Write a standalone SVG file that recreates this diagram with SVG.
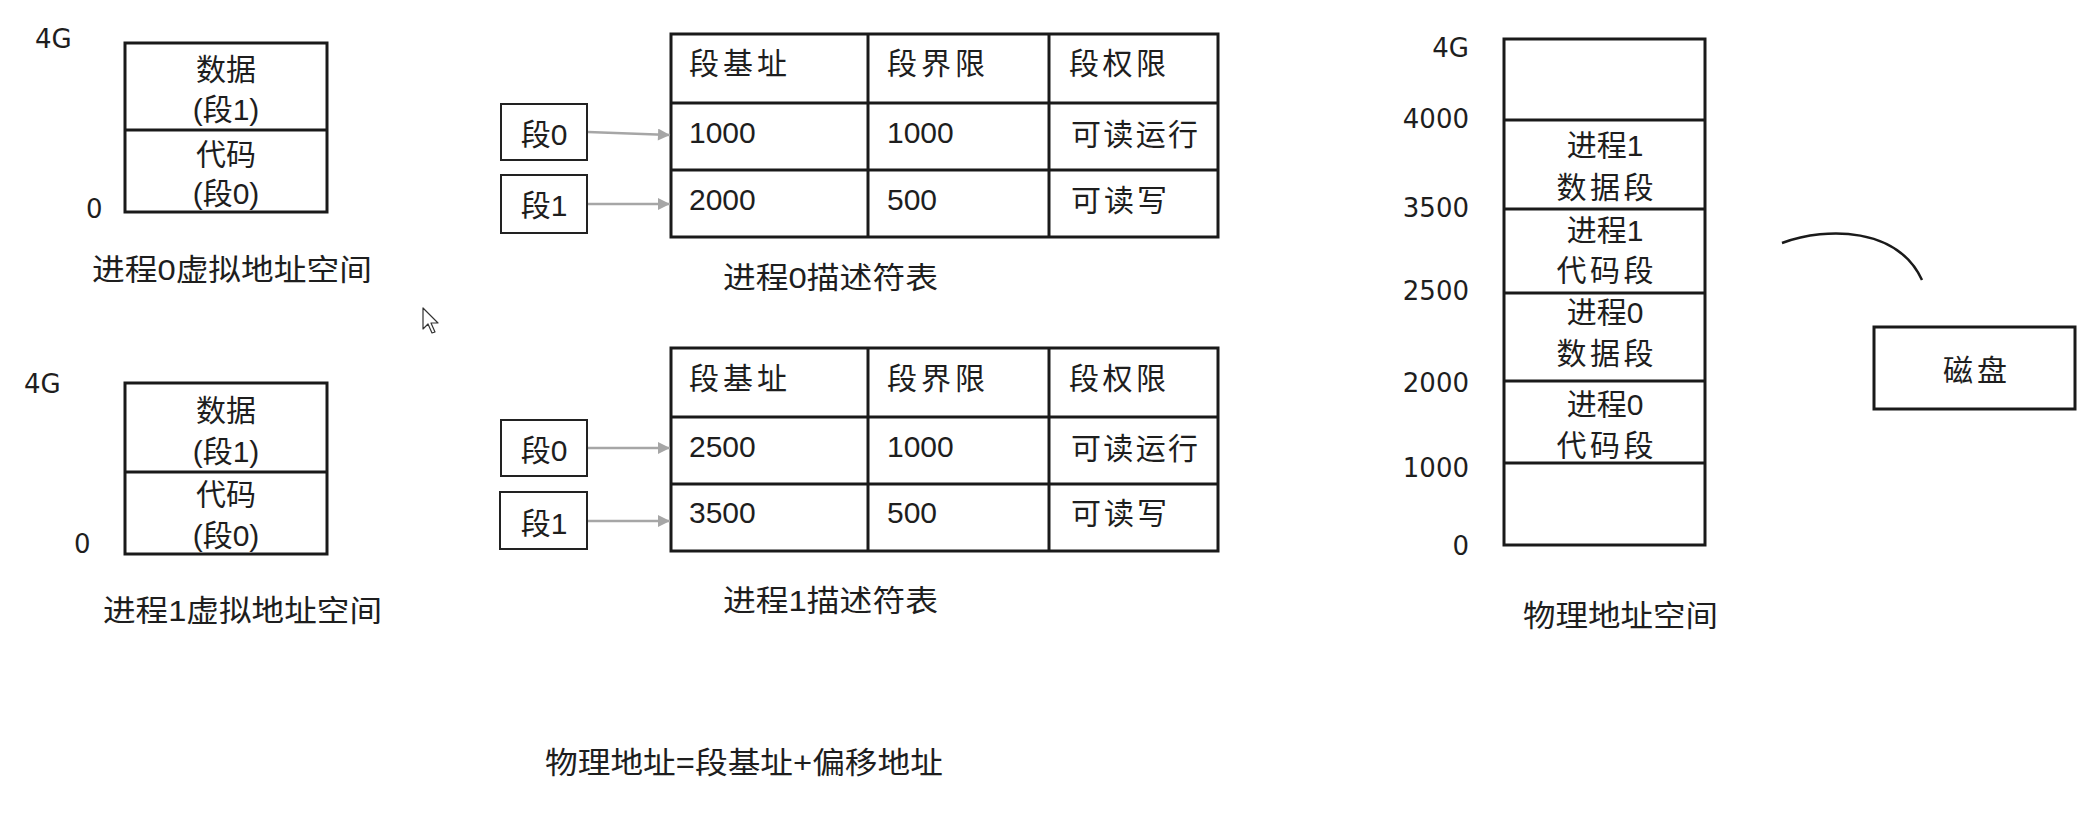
<svg xmlns="http://www.w3.org/2000/svg" width="2090" height="816" viewBox="0 0 2090 816">
<style>
text{font-family:"Liberation Sans","Noto Sans CJK SC",sans-serif;fill:#1e1e1e;font-size:30px}
.c{text-anchor:middle}
.r{text-anchor:end}
.num{font-family:"DejaVu Sans","Noto Sans CJK SC",sans-serif;font-size:26px}
.box{fill:#fff;stroke:#1a1a1a;stroke-width:3}
.ln{stroke:#1a1a1a;stroke-width:3}
.sbox{fill:#fff;stroke:#222;stroke-width:2}
.arr{stroke:#a6a6a6;stroke-width:2.5;fill:none}
</style>
<defs>
<marker id="ah" viewBox="0 0 10 10" refX="10" refY="5" markerWidth="14" markerHeight="12" markerUnits="userSpaceOnUse" orient="auto">
<path d="M0,0 L10,5 L0,10 Z" fill="#a6a6a6"/>
</marker>
</defs>
<rect width="2090" height="816" fill="#fff"/>

<g id="vspace0">
<rect class="box" x="125" y="43" width="202" height="169"/>
<line class="ln" x1="125" y1="130" x2="327" y2="130"/>
<text class="num" x="35" y="48" font-size="23">4G</text>
<text class="num" x="86" y="218" font-size="24">0</text>
<text class="c" x="226" y="80">数据</text>
<text class="c" x="226" y="120">(段1)</text>
<text class="c" x="226" y="165">代码</text>
<text class="c" x="226" y="204">(段0)</text>
<text x="92" y="280" textLength="280" lengthAdjust="spacingAndGlyphs">进程0虚拟地址空间</text>
</g>

<g id="vspace1">
<rect class="box" x="125" y="383" width="202" height="171"/>
<line class="ln" x1="125" y1="472" x2="327" y2="472"/>
<text class="num" x="24" y="393" font-size="23">4G</text>
<text class="num" x="74" y="553" font-size="24">0</text>
<text class="c" x="226" y="421">数据</text>
<text class="c" x="226" y="462">(段1)</text>
<text class="c" x="226" y="505">代码</text>
<text class="c" x="226" y="546">(段0)</text>
<text x="103" y="621" textLength="279" lengthAdjust="spacingAndGlyphs">进程1虚拟地址空间</text>
</g>

<g id="table0">
<rect class="box" x="671" y="34" width="547" height="203"/>
<line class="ln" x1="671" y1="103" x2="1218" y2="103"/>
<line class="ln" x1="671" y1="170" x2="1218" y2="170"/>
<line class="ln" x1="868" y1="34" x2="868" y2="237"/>
<line class="ln" x1="1049" y1="34" x2="1049" y2="237"/>
<text x="689" y="74" textLength="98">段基址</text>
<text x="887" y="74" textLength="98">段界限</text>
<text x="1069" y="74" textLength="97">段权限</text>
<text x="689" y="143" font-size="31">1000</text>
<text x="887" y="143" font-size="31">1000</text>
<text x="1071" y="145" textLength="127">可读运行</text>
<text x="689" y="210" font-size="31">2000</text>
<text x="887" y="210" font-size="31">500</text>
<text x="1071" y="211" textLength="96">可读写</text>
<text x="723" y="288" textLength="215" lengthAdjust="spacingAndGlyphs">进程0描述符表</text>
</g>

<g id="seg0-t0">
<rect class="sbox" x="501" y="104" width="86" height="56"/>
<text class="c" x="544" y="145">段0</text>
</g>
<g id="seg1-t0">
<rect class="sbox" x="501" y="175" width="86" height="58"/>
<text class="c" x="544" y="216">段1</text>
</g>

<g id="table1">
<rect class="box" x="671" y="348" width="547" height="203"/>
<line class="ln" x1="671" y1="417" x2="1218" y2="417"/>
<line class="ln" x1="671" y1="484" x2="1218" y2="484"/>
<line class="ln" x1="868" y1="348" x2="868" y2="551"/>
<line class="ln" x1="1049" y1="348" x2="1049" y2="551"/>
<text x="689" y="389" textLength="98">段基址</text>
<text x="887" y="389" textLength="98">段界限</text>
<text x="1069" y="389" textLength="97">段权限</text>
<text x="689" y="457" font-size="31">2500</text>
<text x="887" y="457" font-size="31">1000</text>
<text x="1071" y="459" textLength="127">可读运行</text>
<text x="689" y="523" font-size="31">3500</text>
<text x="887" y="523" font-size="31">500</text>
<text x="1071" y="524" textLength="96">可读写</text>
<text x="723" y="611" textLength="215" lengthAdjust="spacingAndGlyphs">进程1描述符表</text>
</g>

<g id="seg0-t1">
<rect class="sbox" x="501" y="420" width="86" height="56"/>
<text class="c" x="544" y="461">段0</text>
</g>
<g id="seg1-t1">
<rect class="sbox" x="500" y="492" width="87" height="57"/>
<text class="c" x="544" y="534">段1</text>
</g>

<g id="connectors">
<line class="arr" x1="588" y1="132" x2="670" y2="135" marker-end="url(#ah)"/>
<line class="arr" x1="588" y1="204" x2="670" y2="204" marker-end="url(#ah)"/>
<line class="arr" x1="588" y1="448" x2="670" y2="448" marker-end="url(#ah)"/>
<line class="arr" x1="588" y1="521" x2="670" y2="521" marker-end="url(#ah)"/>
<path d="M1782,243 C1828,226 1898,228 1922,280" fill="none" stroke="#1a1a1a" stroke-width="2.5"/>
</g>

<g id="pspace">
<rect class="box" x="1504" y="39" width="201" height="506"/>
<line class="ln" x1="1504" y1="120" x2="1705" y2="120"/>
<line class="ln" x1="1504" y1="209" x2="1705" y2="209"/>
<line class="ln" x1="1504" y1="293" x2="1705" y2="293" stroke-width="4"/>
<line class="ln" x1="1504" y1="381" x2="1705" y2="381"/>
<line class="ln" x1="1504" y1="463" x2="1705" y2="463"/>
<text class="num r" x="1469" y="57">4G</text>
<text class="num r" x="1469" y="128">4000</text>
<text class="num r" x="1469" y="217">3500</text>
<text class="num r" x="1469" y="300">2500</text>
<text class="num r" x="1469" y="392">2000</text>
<text class="num r" x="1469" y="477">1000</text>
<text class="num r" x="1469" y="555">0</text>
<text class="c" x="1605" y="156">进程1</text>
<text class="c" x="1605" y="198" textLength="97">数据段</text>
<text class="c" x="1605" y="241">进程1</text>
<text class="c" x="1605" y="281" textLength="97">代码段</text>
<text class="c" x="1605" y="323">进程0</text>
<text class="c" x="1605" y="364" textLength="97">数据段</text>
<text class="c" x="1605" y="415">进程0</text>
<text class="c" x="1605" y="456" textLength="97">代码段</text>
<text x="1523" y="626" textLength="195" lengthAdjust="spacingAndGlyphs">物理地址空间</text>
</g>

<g id="disk">
<rect class="box" x="1874" y="327" width="201" height="82"/>
<text class="c" x="1975" y="381" textLength="64">磁盘</text>
</g>

<g id="formula">
<text x="545" y="773" textLength="398" lengthAdjust="spacingAndGlyphs">物理地址=段基址+偏移地址</text>
</g>

<g id="cursor">
<path d="M423,308 L423,329 L428,324 L432,333 L435,332 L431,323 L438,323 Z" fill="#fff" stroke="#333" stroke-width="1.2" stroke-linejoin="round"/>
</g>
</svg>
